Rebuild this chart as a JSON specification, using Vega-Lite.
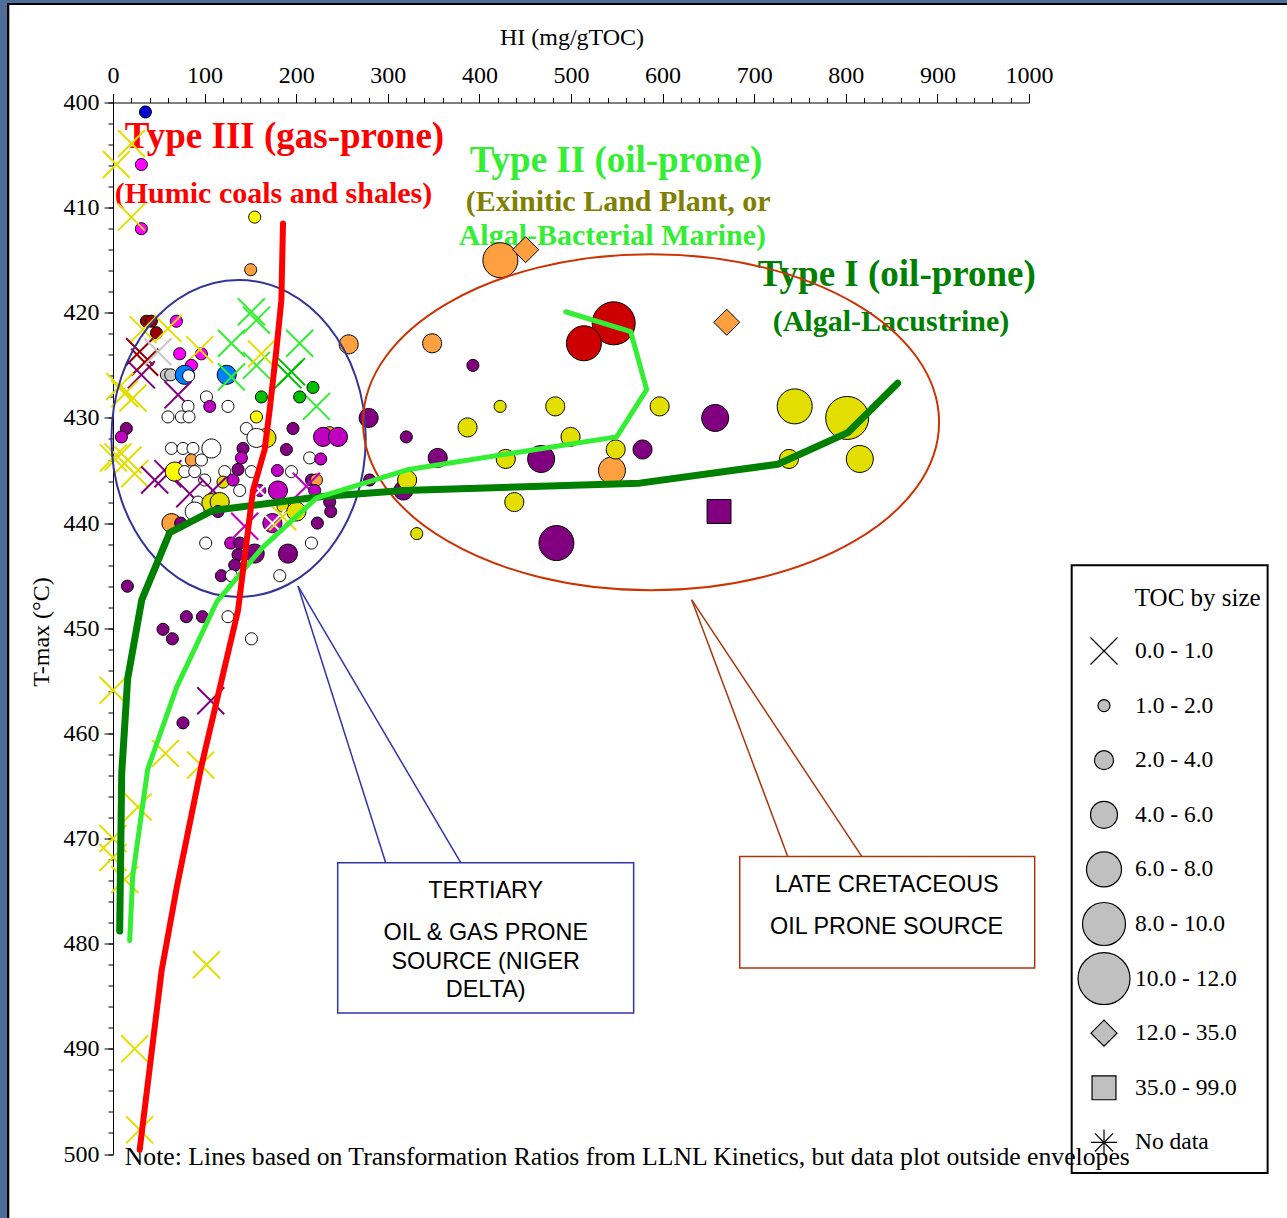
{
  "$schema": "https://vega.github.io/schema/vega-lite/v6.json",
  "width": 916,
  "height": 1051.5,
  "autosize": "none",
  "padding": {"left": 113, "top": 102.5, "right": 258, "bottom": 64},
  "background": "white",
  "config": {"view": {"stroke": null}, "font": "Liberation Serif"},
  "resolve": {"axis": {"x": "independent", "y": "independent"}},
  "datasets": {
    "samples": [
      {"HI":35.4,"Tmax":400.9,"toc":"1.0 - 2.0","group":"blue"},
      {"HI":31.0,"Tmax":405.9,"toc":"1.0 - 2.0","group":"pink"},
      {"HI":20.1,"Tmax":403.9,"toc":"0.0 - 1.0","group":"yellow"},
      {"HI":3.7,"Tmax":405.9,"toc":"0.0 - 1.0","group":"yellow"},
      {"HI":31.0,"Tmax":412.0,"toc":"1.0 - 2.0","group":"pink"},
      {"HI":20.1,"Tmax":410.9,"toc":"0.0 - 1.0","group":"yellow"},
      {"HI":154.7,"Tmax":410.9,"toc":"1.0 - 2.0","group":"lemon"},
      {"HI":150.3,"Tmax":415.9,"toc":"1.0 - 2.0","group":"orange"},
      {"HI":36.5,"Tmax":420.8,"toc":"1.0 - 2.0","group":"maroon"},
      {"HI":41.9,"Tmax":420.8,"toc":"1.0 - 2.0","group":"maroon"},
      {"HI":47.4,"Tmax":421.9,"toc":"1.0 - 2.0","group":"maroon"},
      {"HI":69.2,"Tmax":420.8,"toc":"1.0 - 2.0","group":"pink"},
      {"HI":32.8,"Tmax":421.6,"toc":"0.0 - 1.0","group":"yellow"},
      {"HI":60.0,"Tmax":421.5,"toc":"0.0 - 1.0","group":"yellow"},
      {"HI":29.1,"Tmax":423.7,"toc":"0.0 - 1.0","group":"maroon"},
      {"HI":34.6,"Tmax":424.7,"toc":"0.0 - 1.0","group":"maroon"},
      {"HI":49.1,"Tmax":423.7,"toc":"0.0 - 1.0","group":"gray"},
      {"HI":96.5,"Tmax":423.9,"toc":"1.0 - 2.0","group":"pink"},
      {"HI":94.7,"Tmax":423.5,"toc":"0.0 - 1.0","group":"yellow"},
      {"HI":72.8,"Tmax":423.9,"toc":"1.0 - 2.0","group":"pink"},
      {"HI":85.6,"Tmax":425.0,"toc":"1.0 - 2.0","group":"pink"},
      {"HI":31.0,"Tmax":425.9,"toc":"0.0 - 1.0","group":"purple"},
      {"HI":58.3,"Tmax":425.9,"toc":"1.0 - 2.0","group":"gray"},
      {"HI":63.0,"Tmax":425.9,"toc":"1.0 - 2.0","group":"gray"},
      {"HI":78.3,"Tmax":425.9,"toc":"2.0 - 4.0","group":"sky"},
      {"HI":82.6,"Tmax":426.0,"toc":"1.0 - 2.0","group":"white"},
      {"HI":124.1,"Tmax":425.9,"toc":"2.0 - 4.0","group":"sky"},
      {"HI":129.3,"Tmax":426.1,"toc":"0.0 - 1.0","group":"lime"},
      {"HI":71.0,"Tmax":427.8,"toc":"0.0 - 1.0","group":"purple"},
      {"HI":7.3,"Tmax":427.0,"toc":"0.0 - 1.0","group":"yellow"},
      {"HI":12.8,"Tmax":427.7,"toc":"0.0 - 1.0","group":"yellow"},
      {"HI":21.8,"Tmax":428.1,"toc":"0.0 - 1.0","group":"yellow"},
      {"HI":102.0,"Tmax":428.0,"toc":"1.0 - 2.0","group":"white"},
      {"HI":81.9,"Tmax":428.9,"toc":"1.0 - 2.0","group":"white"},
      {"HI":125.5,"Tmax":428.9,"toc":"1.0 - 2.0","group":"white"},
      {"HI":105.6,"Tmax":428.9,"toc":"1.0 - 2.0","group":"magenta"},
      {"HI":60.0,"Tmax":429.9,"toc":"1.0 - 2.0","group":"white"},
      {"HI":74.7,"Tmax":429.9,"toc":"1.0 - 2.0","group":"white"},
      {"HI":83.0,"Tmax":429.9,"toc":"1.0 - 2.0","group":"white"},
      {"HI":151.1,"Tmax":419.9,"toc":"0.0 - 1.0","group":"lime"},
      {"HI":156.6,"Tmax":420.7,"toc":"0.0 - 1.0","group":"lime"},
      {"HI":129.3,"Tmax":422.9,"toc":"0.0 - 1.0","group":"lime"},
      {"HI":156.6,"Tmax":425.0,"toc":"0.0 - 1.0","group":"lime"},
      {"HI":203.8,"Tmax":422.9,"toc":"0.0 - 1.0","group":"lime"},
      {"HI":194.8,"Tmax":425.6,"toc":"0.0 - 1.0","group":"green"},
      {"HI":191.0,"Tmax":425.9,"toc":"0.0 - 1.0","group":"green"},
      {"HI":222.1,"Tmax":428.9,"toc":"0.0 - 1.0","group":"lime"},
      {"HI":162.0,"Tmax":423.9,"toc":"0.0 - 1.0","group":"yellow"},
      {"HI":162.0,"Tmax":428.0,"toc":"1.0 - 2.0","group":"green"},
      {"HI":203.8,"Tmax":428.0,"toc":"1.0 - 2.0","group":"green"},
      {"HI":218.3,"Tmax":427.1,"toc":"1.0 - 2.0","group":"green"},
      {"HI":156.6,"Tmax":429.9,"toc":"1.0 - 2.0","group":"lemon"},
      {"HI":196.5,"Tmax":431.0,"toc":"1.0 - 2.0","group":"purple"},
      {"HI":145.6,"Tmax":431.0,"toc":"1.0 - 2.0","group":"white"},
      {"HI":167.5,"Tmax":431.9,"toc":"2.0 - 4.0","group":"yellow"},
      {"HI":156.6,"Tmax":431.9,"toc":"2.0 - 4.0","group":"white"},
      {"HI":236.6,"Tmax":431.4,"toc":"1.0 - 2.0","group":"orange"},
      {"HI":229.3,"Tmax":431.8,"toc":"2.0 - 4.0","group":"magenta"},
      {"HI":245.6,"Tmax":431.8,"toc":"2.0 - 4.0","group":"magenta"},
      {"HI":14.6,"Tmax":431.0,"toc":"1.0 - 2.0","group":"purple"},
      {"HI":9.2,"Tmax":431.8,"toc":"1.0 - 2.0","group":"magenta"},
      {"HI":257.3,"Tmax":423.0,"toc":"2.0 - 4.0","group":"orange"},
      {"HI":279.1,"Tmax":430.0,"toc":"2.0 - 4.0","group":"purple"},
      {"HI":5.5,"Tmax":433.7,"toc":"0.0 - 1.0","group":"yellow"},
      {"HI":16.4,"Tmax":434.0,"toc":"0.0 - 1.0","group":"yellow"},
      {"HI":23.7,"Tmax":435.3,"toc":"0.0 - 1.0","group":"yellow"},
      {"HI":0.5,"Tmax":433.8,"toc":"0.0 - 1.0","group":"yellow"},
      {"HI":45.5,"Tmax":435.9,"toc":"0.0 - 1.0","group":"purple"},
      {"HI":60.0,"Tmax":435.3,"toc":"0.0 - 1.0","group":"purple"},
      {"HI":63.8,"Tmax":432.9,"toc":"1.0 - 2.0","group":"white"},
      {"HI":76.4,"Tmax":432.9,"toc":"1.0 - 2.0","group":"white"},
      {"HI":87.3,"Tmax":432.9,"toc":"1.0 - 2.0","group":"white"},
      {"HI":107.4,"Tmax":432.9,"toc":"2.0 - 4.0","group":"white"},
      {"HI":85.6,"Tmax":434.0,"toc":"1.0 - 2.0","group":"orange"},
      {"HI":96.5,"Tmax":434.0,"toc":"1.0 - 2.0","group":"white"},
      {"HI":67.4,"Tmax":435.1,"toc":"2.0 - 4.0","group":"lemon"},
      {"HI":78.3,"Tmax":435.1,"toc":"1.0 - 2.0","group":"white"},
      {"HI":89.2,"Tmax":435.1,"toc":"1.0 - 2.0","group":"white"},
      {"HI":100.1,"Tmax":435.9,"toc":"1.0 - 2.0","group":"white"},
      {"HI":121.9,"Tmax":435.1,"toc":"1.0 - 2.0","group":"white"},
      {"HI":120.1,"Tmax":436.1,"toc":"1.0 - 2.0","group":"yellow"},
      {"HI":131.0,"Tmax":435.9,"toc":"1.0 - 2.0","group":"magenta"},
      {"HI":138.3,"Tmax":436.9,"toc":"1.0 - 2.0","group":"white"},
      {"HI":141.9,"Tmax":432.9,"toc":"1.0 - 2.0","group":"purple"},
      {"HI":140.2,"Tmax":433.8,"toc":"1.0 - 2.0","group":"magenta"},
      {"HI":136.5,"Tmax":434.9,"toc":"1.0 - 2.0","group":"purple"},
      {"HI":151.1,"Tmax":435.1,"toc":"1.0 - 2.0","group":"white"},
      {"HI":109.1,"Tmax":436.9,"toc":"0.0 - 1.0","group":"purple"},
      {"HI":83.8,"Tmax":437.2,"toc":"0.0 - 1.0","group":"purple"},
      {"HI":92.8,"Tmax":438.0,"toc":"1.0 - 2.0","group":"white"},
      {"HI":107.4,"Tmax":438.1,"toc":"2.0 - 4.0","group":"yellow"},
      {"HI":116.5,"Tmax":438.0,"toc":"2.0 - 4.0","group":"yellow"},
      {"HI":89.2,"Tmax":438.9,"toc":"2.0 - 4.0","group":"white"},
      {"HI":114.6,"Tmax":438.9,"toc":"1.0 - 2.0","group":"purple"},
      {"HI":63.8,"Tmax":440.0,"toc":"2.0 - 4.0","group":"orange"},
      {"HI":73.9,"Tmax":440.0,"toc":"1.0 - 2.0","group":"purple"},
      {"HI":101.2,"Tmax":441.9,"toc":"1.0 - 2.0","group":"white"},
      {"HI":128.5,"Tmax":441.9,"toc":"1.0 - 2.0","group":"magenta"},
      {"HI":138.3,"Tmax":441.9,"toc":"1.0 - 2.0","group":"purple"},
      {"HI":136.5,"Tmax":443.0,"toc":"1.0 - 2.0","group":"purple"},
      {"HI":132.9,"Tmax":444.0,"toc":"1.0 - 2.0","group":"purple"},
      {"HI":118.3,"Tmax":445.0,"toc":"1.0 - 2.0","group":"purple"},
      {"HI":129.3,"Tmax":445.0,"toc":"1.0 - 2.0","group":"white"},
      {"HI":15.7,"Tmax":446.0,"toc":"1.0 - 2.0","group":"purple"},
      {"HI":143.8,"Tmax":440.3,"toc":"0.0 - 1.0","group":"magenta"},
      {"HI":189.3,"Tmax":433.0,"toc":"1.0 - 2.0","group":"purple"},
      {"HI":214.7,"Tmax":433.8,"toc":"1.0 - 2.0","group":"white"},
      {"HI":226.8,"Tmax":433.9,"toc":"1.0 - 2.0","group":"magenta"},
      {"HI":194.8,"Tmax":435.1,"toc":"1.0 - 2.0","group":"white"},
      {"HI":179.5,"Tmax":435.0,"toc":"1.0 - 2.0","group":"magenta"},
      {"HI":216.6,"Tmax":435.9,"toc":"1.0 - 2.0","group":"purple"},
      {"HI":222.1,"Tmax":435.9,"toc":"1.0 - 2.0","group":"orange"},
      {"HI":211.1,"Tmax":436.5,"toc":"0.0 - 1.0","group":"magenta"},
      {"HI":220.2,"Tmax":436.9,"toc":"1.0 - 2.0","group":"magenta"},
      {"HI":236.6,"Tmax":438.0,"toc":"1.0 - 2.0","group":"purple"},
      {"HI":237.7,"Tmax":438.9,"toc":"1.0 - 2.0","group":"purple"},
      {"HI":223.1,"Tmax":440.0,"toc":"1.0 - 2.0","group":"purple"},
      {"HI":180.1,"Tmax":436.9,"toc":"2.0 - 4.0","group":"magenta"},
      {"HI":160.2,"Tmax":436.9,"toc":"1.0 - 2.0","group":"magenta"},
      {"HI":160.2,"Tmax":436.9,"toc":"0.0 - 1.0","group":"white"},
      {"HI":185.6,"Tmax":438.4,"toc":"1.0 - 2.0","group":"yellow"},
      {"HI":200.2,"Tmax":438.9,"toc":"2.0 - 4.0","group":"yellow"},
      {"HI":174.0,"Tmax":440.0,"toc":"2.0 - 4.0","group":"magenta"},
      {"HI":174.0,"Tmax":440.0,"toc":"0.0 - 1.0","group":"white"},
      {"HI":191.0,"Tmax":442.9,"toc":"2.0 - 4.0","group":"purple"},
      {"HI":154.7,"Tmax":442.9,"toc":"2.0 - 4.0","group":"purple"},
      {"HI":216.6,"Tmax":441.9,"toc":"1.0 - 2.0","group":"white"},
      {"HI":182.0,"Tmax":445.0,"toc":"1.0 - 2.0","group":"white"},
      {"HI":185.3,"Tmax":439.4,"toc":"0.0 - 1.0","group":"yellow"},
      {"HI":0.0,"Tmax":455.9,"toc":"0.0 - 1.0","group":"yellow"},
      {"HI":57.2,"Tmax":461.9,"toc":"0.0 - 1.0","group":"yellow"},
      {"HI":95.7,"Tmax":463.0,"toc":"0.0 - 1.0","group":"yellow"},
      {"HI":106.7,"Tmax":456.9,"toc":"0.0 - 1.0","group":"purple"},
      {"HI":27.3,"Tmax":467.0,"toc":"0.0 - 1.0","group":"yellow"},
      {"HI":0.0,"Tmax":470.0,"toc":"0.0 - 1.0","group":"yellow"},
      {"HI":0.0,"Tmax":471.8,"toc":"0.0 - 1.0","group":"yellow"},
      {"HI":12.8,"Tmax":473.9,"toc":"0.0 - 1.0","group":"yellow"},
      {"HI":102.0,"Tmax":482.0,"toc":"0.0 - 1.0","group":"yellow"},
      {"HI":23.7,"Tmax":490.0,"toc":"0.0 - 1.0","group":"yellow"},
      {"HI":29.1,"Tmax":497.7,"toc":"0.0 - 1.0","group":"yellow"},
      {"HI":80.1,"Tmax":448.9,"toc":"1.0 - 2.0","group":"purple"},
      {"HI":54.6,"Tmax":450.1,"toc":"1.0 - 2.0","group":"purple"},
      {"HI":64.8,"Tmax":451.0,"toc":"1.0 - 2.0","group":"purple"},
      {"HI":97.6,"Tmax":448.9,"toc":"1.0 - 2.0","group":"purple"},
      {"HI":125.5,"Tmax":448.9,"toc":"1.0 - 2.0","group":"white"},
      {"HI":151.1,"Tmax":451.0,"toc":"1.0 - 2.0","group":"white"},
      {"HI":76.4,"Tmax":459.0,"toc":"1.0 - 2.0","group":"purple"},
      {"HI":348.4,"Tmax":422.9,"toc":"2.0 - 4.0","group":"orange"},
      {"HI":392.9,"Tmax":425.0,"toc":"1.0 - 2.0","group":"purple"},
      {"HI":422.6,"Tmax":428.9,"toc":"1.0 - 2.0","group":"yellow"},
      {"HI":482.8,"Tmax":428.9,"toc":"2.0 - 4.0","group":"yellow"},
      {"HI":596.8,"Tmax":428.9,"toc":"2.0 - 4.0","group":"yellow"},
      {"HI":657.4,"Tmax":430.0,"toc":"4.0 - 6.0","group":"purple"},
      {"HI":744.2,"Tmax":428.9,"toc":"6.0 - 8.0","group":"yellow"},
      {"HI":801.5,"Tmax":430.0,"toc":"8.0 - 10.0","group":"yellow"},
      {"HI":815.3,"Tmax":433.9,"toc":"4.0 - 6.0","group":"yellow"},
      {"HI":738.0,"Tmax":433.9,"toc":"2.0 - 4.0","group":"yellow"},
      {"HI":320.2,"Tmax":431.8,"toc":"1.0 - 2.0","group":"purple"},
      {"HI":387.1,"Tmax":430.9,"toc":"2.0 - 4.0","group":"yellow"},
      {"HI":354.5,"Tmax":433.8,"toc":"2.0 - 4.0","group":"purple"},
      {"HI":428.8,"Tmax":433.9,"toc":"2.0 - 4.0","group":"yellow"},
      {"HI":467.4,"Tmax":433.9,"toc":"4.0 - 6.0","group":"purple"},
      {"HI":499.5,"Tmax":431.8,"toc":"2.0 - 4.0","group":"yellow"},
      {"HI":544.7,"Tmax":435.0,"toc":"4.0 - 6.0","group":"orange"},
      {"HI":548.8,"Tmax":433.0,"toc":"2.0 - 4.0","group":"yellow"},
      {"HI":578.1,"Tmax":433.0,"toc":"2.0 - 4.0","group":"purple"},
      {"HI":280.2,"Tmax":435.9,"toc":"1.0 - 2.0","group":"purple"},
      {"HI":317.0,"Tmax":436.9,"toc":"2.0 - 4.0","group":"purple"},
      {"HI":321.1,"Tmax":435.9,"toc":"2.0 - 4.0","group":"yellow"},
      {"HI":438.1,"Tmax":438.0,"toc":"2.0 - 4.0","group":"yellow"},
      {"HI":331.6,"Tmax":441.0,"toc":"1.0 - 2.0","group":"yellow"},
      {"HI":484.1,"Tmax":441.9,"toc":"6.0 - 8.0","group":"purple"},
      {"HI":661.6,"Tmax":438.9,"toc":"35.0 - 99.0","group":"purple"},
      {"HI":670.0,"Tmax":420.9,"toc":"12.0 - 35.0","group":"orange"},
      {"HI":546.6,"Tmax":421.0,"toc":"8.0 - 10.0","group":"red"},
      {"HI":514.1,"Tmax":422.9,"toc":"6.0 - 8.0","group":"red"},
      {"HI":422.9,"Tmax":415.0,"toc":"6.0 - 8.0","group":"orange"},
      {"HI":450.5,"Tmax":414.0,"toc":"12.0 - 35.0","group":"orange"}
    ],
    "curves": [
      {"type":"Type I","i":1,"HI":856.6,"Tmax":426.7},
      {"type":"Type I","i":2,"HI":802.1,"Tmax":431.4},
      {"type":"Type I","i":3,"HI":725.7,"Tmax":434.4},
      {"type":"Type I","i":4,"HI":575.0,"Tmax":436.2},
      {"type":"Type I","i":5,"HI":317.3,"Tmax":436.9},
      {"type":"Type I","i":6,"HI":225.6,"Tmax":437.5},
      {"type":"Type I","i":7,"HI":108.9,"Tmax":438.8},
      {"type":"Type I","i":8,"HI":61.9,"Tmax":440.9},
      {"type":"Type I","i":9,"HI":31.4,"Tmax":447.3},
      {"type":"Type I","i":10,"HI":16.0,"Tmax":454.8},
      {"type":"Type I","i":11,"HI":9.5,"Tmax":463.8},
      {"type":"Type I","i":12,"HI":7.3,"Tmax":478.8},
      {"type":"Type II","i":1,"HI":494.2,"Tmax":419.9},
      {"type":"Type II","i":2,"HI":565.2,"Tmax":421.8},
      {"type":"Type II","i":3,"HI":582.6,"Tmax":427.3},
      {"type":"Type II","i":4,"HI":549.8,"Tmax":431.8},
      {"type":"Type II","i":5,"HI":322.8,"Tmax":434.9},
      {"type":"Type II","i":6,"HI":222.4,"Tmax":437.6},
      {"type":"Type II","i":7,"HI":163.4,"Tmax":442.3},
      {"type":"Type II","i":8,"HI":113.2,"Tmax":447.5},
      {"type":"Type II","i":9,"HI":69.5,"Tmax":455.6},
      {"type":"Type II","i":10,"HI":37.9,"Tmax":463.4},
      {"type":"Type II","i":11,"HI":21.5,"Tmax":473.6},
      {"type":"Type II","i":12,"HI":18.2,"Tmax":479.7},
      {"type":"Type III","i":1,"HI":185.6,"Tmax":411.5},
      {"type":"Type III","i":2,"HI":183.8,"Tmax":418.8},
      {"type":"Type III","i":3,"HI":178.4,"Tmax":423.5},
      {"type":"Type III","i":4,"HI":171.1,"Tmax":429.2},
      {"type":"Type III","i":5,"HI":165.6,"Tmax":433.0},
      {"type":"Type III","i":6,"HI":152.8,"Tmax":436.9},
      {"type":"Type III","i":7,"HI":136.5,"Tmax":448.3},
      {"type":"Type III","i":8,"HI":96.8,"Tmax":463.0},
      {"type":"Type III","i":9,"HI":69.5,"Tmax":474.7},
      {"type":"Type III","i":10,"HI":53.2,"Tmax":482.5},
      {"type":"Type III","i":11,"HI":29.1,"Tmax":499.6}
    ]
  },
  "layer": [
    {
      "data": {"values": [
        {"HI":-124,"HI2":-115.7,"Tmax":390,"Tmax2":507},
        {"HI":-124,"HI2":1282,"Tmax":390,"Tmax2":390.54}
      ]},
      "mark": {"type": "rect", "fill": "#4e6e98", "clip": false},
      "encoding": {
        "x": {
          "field": "HI", "type": "quantitative",
          "scale": {"domain": [0, 1000], "nice": false, "zero": false},
          "axis": {
            "orient": "top",
            "values": [0,100,200,300,400,500,600,700,800,900,1000],
            "format": "d",
            "tickSize": 9, "tickColor": "#000000", "tickWidth": 1,
            "domain": true, "domainColor": "#000000", "domainWidth": 1,
            "grid": false,
            "labelFont": "Liberation Serif", "labelFontSize": 24, "labelColor": "#000000",
            "labelPadding": 6, "labelOverlap": false, "labelFlush": false,
            "title": "HI (mg/gTOC)",
            "titleFont": "Liberation Serif", "titleFontSize": 24, "titleFontWeight": "normal", "titleColor": "#000000",
            "titleAlign": "center", "titleBaseline": "alphabetic", "titleX": 458.5, "titleY": -58
          }
        },
        "x2": {"field": "HI2"},
        "y": {
          "field": "Tmax", "type": "quantitative",
          "scale": {"domain": [400, 500], "nice": false, "zero": false, "reverse": true},
          "axis": {
            "orient": "left",
            "values": [400,410,420,430,440,450,460,470,480,490,500],
            "format": "d",
            "tickSize": 9, "tickColor": "#000000", "tickWidth": 1,
            "domain": true, "domainColor": "#000000", "domainWidth": 1,
            "grid": false,
            "labelFont": "Liberation Serif", "labelFontSize": 24, "labelColor": "#000000",
            "labelPadding": 5, "labelOverlap": false, "labelFlush": false,
            "title": "T-max (°C)",
            "titleFont": "Liberation Serif", "titleFontSize": 24, "titleFontWeight": "normal", "titleColor": "#000000",
            "titleAngle": -90, "titleAlign": "center", "titleBaseline": "middle", "titleX": -72, "titleY": 529
          }
        },
        "y2": {"field": "Tmax2"}
      }
    },
    {
      "data": {"values": [
        {"HI":-115.7,"HI2":-113.2,"Tmax":390.54,"Tmax2":507},
        {"HI":-115.7,"HI2":1282,"Tmax":390.54,"Tmax2":390.73}
      ]},
      "mark": {"type": "rect", "fill": "#000000", "clip": false},
      "encoding": {
        "x": {
          "field": "HI", "type": "quantitative",
          "axis": {
            "orient": "top",
            "values": [0,20,40,60,80,100,120,140,160,180,200,220,240,260,280,300,320,340,360,380,400,420,440,460,480,500,520,540,560,580,600,620,640,660,680,700,720,740,760,780,800,820,840,860,880,900,920,940,960,980,1000],
            "tickSize": 5, "tickColor": "#000000", "tickWidth": 1,
            "labels": false, "domain": false, "grid": false, "title": null
          }
        },
        "x2": {"field": "HI2"},
        "y": {
          "field": "Tmax", "type": "quantitative",
          "axis": {
            "orient": "left",
            "values": [400,402,404,406,408,410,412,414,416,418,420,422,424,426,428,430,432,434,436,438,440,442,444,446,448,450,452,454,456,458,460,462,464,466,468,470,472,474,476,478,480,482,484,486,488,490,492,494,496,498,500],
            "tickSize": 5, "tickColor": "#000000", "tickWidth": 1,
            "labels": false, "domain": false, "grid": false, "title": null
          }
        },
        "y2": {"field": "Tmax2"}
      }
    },
    {
      "data": {"values": [
        {"label":"Type III (gas-prone)","kind":"Type III","HI":12.9,"Tmax":404.33},
        {"label":"Type II (oil-prone)","kind":"Type II","HI":389.4,"Tmax":406.61},
        {"label":"Type I (oil-prone)","kind":"Type I","HI":703.8,"Tmax":417.45}
      ]},
      "mark": {"type": "text", "font": "Liberation Serif", "fontWeight": "bold", "fontSize": 37, "align": "left", "baseline": "alphabetic", "clip": false},
      "encoding": {
        "x": {"field": "HI", "type": "quantitative", "axis": null},
        "y": {"field": "Tmax", "type": "quantitative", "axis": null},
        "text": {"field": "label"},
        "color": {"field": "kind", "type": "nominal", "scale": {"domain": ["Type III","Type II","Type II source","Type I"], "range": ["#ff0000","#33ee33","#808000","#008000"]}, "legend": null}
      }
    },
    {
      "data": {"values": [
        {"label":"(Humic coals and shales)","kind":"Type III","HI":1.9,"Tmax":409.56},
        {"label":"(Exinitic Land Plant, or","kind":"Type II source","HI":385.0,"Tmax":410.32},
        {"label":"Algal-Bacterial Marine)","kind":"Type II","HI":377.4,"Tmax":413.55},
        {"label":"(Algal-Lacustrine)","kind":"Type I","HI":720.2,"Tmax":421.73}
      ]},
      "mark": {"type": "text", "font": "Liberation Serif", "fontWeight": "bold", "fontSize": 30, "align": "left", "baseline": "alphabetic", "clip": false},
      "encoding": {
        "x": {"field": "HI", "type": "quantitative", "axis": null},
        "y": {"field": "Tmax", "type": "quantitative", "axis": null},
        "text": {"field": "label"},
        "color": {"field": "kind", "type": "nominal", "scale": {"domain": ["Type III","Type II","Type II source","Type I"], "range": ["#ff0000","#33ee33","#808000","#008000"]}, "legend": null}
      }
    },
    {
      "data": {"values": [
        {"label":"Note: Lines based on Transformation Ratios from LLNL Kinetics, but data plot outside envelopes","HI":12.9,"Tmax":501.04}
      ]},
      "mark": {"type": "text", "font": "Liberation Serif", "fontSize": 25.7, "align": "left", "baseline": "alphabetic", "color": "#000000", "clip": false},
      "encoding": {
        "x": {"field": "HI", "type": "quantitative", "axis": null},
        "y": {"field": "Tmax", "type": "quantitative", "axis": null},
        "text": {"field": "label"}
      }
    },
    {
      "data": {"values": [
        {"label":"TERTIARY","HI":406.9,"Tmax":475.65},
        {"label":"OIL & GAS PRONE","HI":406.9,"Tmax":479.64},
        {"label":"SOURCE (NIGER","HI":406.9,"Tmax":482.40},
        {"label":"DELTA)","HI":406.9,"Tmax":485.06},
        {"label":"LATE CRETACEOUS","HI":844.6,"Tmax":475.08},
        {"label":"OIL PRONE SOURCE","HI":844.6,"Tmax":479.07}
      ]},
      "mark": {"type": "text", "font": "Liberation Sans", "fontSize": 23.4, "align": "center", "baseline": "alphabetic", "color": "#000000", "clip": false},
      "encoding": {
        "x": {"field": "HI", "type": "quantitative", "axis": null},
        "y": {"field": "Tmax", "type": "quantitative", "axis": null},
        "text": {"field": "label"}
      }
    },
    {
      "data": {"values": [{"label":"TOC by size","HI":1115.5,"Tmax":447.88}]},
      "mark": {"type": "text", "font": "Liberation Serif", "fontSize": 25, "align": "left", "baseline": "alphabetic", "color": "#000000", "clip": false},
      "encoding": {
        "x": {"field": "HI", "type": "quantitative", "axis": null},
        "y": {"field": "Tmax", "type": "quantitative", "axis": null},
        "text": {"field": "label"}
      }
    },
    {
      "data": {"values": [{"HI":1046.6,"HI2":1260.5,"Tmax":444.0,"Tmax2":501.8}]},
      "mark": {"type": "rect", "fill": "transparent", "stroke": "#000000", "strokeWidth": 2, "clip": false},
      "encoding": {
        "x": {"field": "HI", "type": "quantitative", "axis": null},
        "x2": {"field": "HI2"},
        "y": {"field": "Tmax", "type": "quantitative", "axis": null},
        "y2": {"field": "Tmax2"}
      }
    },
    {
      "data": {"values": [{"HI":245.3,"HI2":568.4,"Tmax":472.3,"Tmax2":486.6}]},
      "mark": {"type": "rect", "fill": "transparent", "stroke": "#3333aa", "strokeWidth": 1.5, "clip": false},
      "encoding": {
        "x": {"field": "HI", "type": "quantitative", "axis": null},
        "x2": {"field": "HI2"},
        "y": {"field": "Tmax", "type": "quantitative", "axis": null},
        "y2": {"field": "Tmax2"}
      }
    },
    {
      "data": {"values": [{"HI":684.2,"HI2":1006.2,"Tmax":471.7,"Tmax2":482.3}]},
      "mark": {"type": "rect", "fill": "transparent", "stroke": "#a8360c", "strokeWidth": 1.5, "clip": false},
      "encoding": {
        "x": {"field": "HI", "type": "quantitative", "axis": null},
        "x2": {"field": "HI2"},
        "y": {"field": "Tmax", "type": "quantitative", "axis": null},
        "y2": {"field": "Tmax2"}
      }
    },
    {
      "data": {"values": [
        {"HI":202.0,"Tmax":446.0,"HI2":297.7,"Tmax2":472.3},
        {"HI":202.0,"Tmax":446.0,"HI2":379.6,"Tmax2":472.3}
      ]},
      "mark": {"type": "rule", "stroke": "#3333aa", "strokeWidth": 1.5, "clip": false},
      "encoding": {
        "x": {"field": "HI", "type": "quantitative", "axis": null},
        "x2": {"field": "HI2"},
        "y": {"field": "Tmax", "type": "quantitative", "axis": null},
        "y2": {"field": "Tmax2"}
      }
    },
    {
      "data": {"values": [
        {"HI":631.8,"Tmax":447.3,"HI2":736.6,"Tmax2":471.7},
        {"HI":631.8,"Tmax":447.3,"HI2":817.4,"Tmax2":471.7}
      ]},
      "mark": {"type": "rule", "stroke": "#a8360c", "strokeWidth": 1.5, "clip": false},
      "encoding": {
        "x": {"field": "HI", "type": "quantitative", "axis": null},
        "x2": {"field": "HI2"},
        "y": {"field": "Tmax", "type": "quantitative", "axis": null},
        "y2": {"field": "Tmax2"}
      }
    },
    {
      "data": {"name": "samples"},
      "mark": {"type": "point", "filled": true, "opacity": 1, "size": 2704, "clip": false},
      "encoding": {
        "x": {"field": "HI", "type": "quantitative", "axis": null},
        "y": {"field": "Tmax", "type": "quantitative", "axis": null},
        "shape": {
          "field": "toc", "type": "nominal",
          "scale": {
            "domain": ["0.0 - 1.0","1.0 - 2.0","2.0 - 4.0","4.0 - 6.0","6.0 - 8.0","8.0 - 10.0","10.0 - 12.0","12.0 - 35.0","35.0 - 99.0","No data"],
            "range": [
              "M-0.52,-0.52L0.52,0.52M-0.52,0.52L0.52,-0.52",
              "M0.2308,0C0.2308,0.1275 0.1275,0.2308 0,0.2308C-0.1275,0.2308 -0.2308,0.1275 -0.2308,0C-0.2308,-0.1275 -0.1275,-0.2308 0,-0.2308C0.1275,-0.2308 0.2308,-0.1275 0.2308,0Z",
              "M0.3654,0C0.3654,0.2018 0.2018,0.3654 0,0.3654C-0.2018,0.3654 -0.3654,0.2018 -0.3654,0C-0.3654,-0.2018 -0.2018,-0.3654 0,-0.3654C0.2018,-0.3654 0.3654,-0.2018 0.3654,0Z",
              "M0.519,0C0.519,0.2866 0.2866,0.519 0,0.519C-0.2866,0.519 -0.519,0.2866 -0.519,0C-0.519,-0.2866 -0.2866,-0.519 0,-0.519C0.2866,-0.519 0.519,-0.2866 0.519,0Z",
              "M0.673,0C0.673,0.3717 0.3717,0.673 0,0.673C-0.3717,0.673 -0.673,0.3717 -0.673,0C-0.673,-0.3717 -0.3717,-0.673 0,-0.673C0.3717,-0.673 0.673,-0.3717 0.673,0Z",
              "M0.827,0C0.827,0.4568 0.4568,0.827 0,0.827C-0.4568,0.827 -0.827,0.4568 -0.827,0C-0.827,-0.4568 -0.4568,-0.827 0,-0.827C0.4568,-0.827 0.827,-0.4568 0.827,0Z",
              "M1,0C1,0.5523 0.5523,1 0,1C-0.5523,1 -1,0.5523 -1,0C-1,-0.5523 -0.5523,-1 0,-1C0.5523,-1 1,-0.5523 1,0Z",
              "M-0.5,0L0,-0.5L0.5,0L0,0.5Z",
              "M-0.46,-0.46L0.46,-0.46L0.46,0.46L-0.46,0.46Z",
              "M-0.5,0L0.5,0M0,-0.5L0,0.5M-0.35,-0.35L0.35,0.35M-0.35,0.35L0.35,-0.35"
            ]
          },
          "legend": {
            "orient": "none", "legendX": 964, "legendY": 522,
            "direction": "vertical", "columns": 1, "title": null, "padding": 0,
            "clipHeight": 53, "rowPadding": 1.6,
            "symbolSize": 2704, "symbolStrokeWidth": 1.2, "symbolOffset": 0,
            "labelOffset": 4, "labelFont": "Liberation Serif", "labelFontSize": 23.5, "labelColor": "#000000", "labelLimit": 300
          }
        },
        "fill": {
          "condition": {"test": "datum.toc === '0.0 - 1.0'", "value": "#c0c0c0"},
          "field": "group", "type": "nominal",
          "scale": {
            "domain": ["yellow","lemon","purple","magenta","pink","orange","red","maroon","white","green","lime","blue","sky","gray"],
            "range": ["#e2df00","#ffff00","#800080","#c000c0","#ff00ff","#ffa040","#cc0000","#990000","#ffffff","#00c000","#33ee33","#0000cc","#0080ff","#c8c8c8"]
          },
          "legend": null
        },
        "stroke": {
          "condition": {"test": "datum.toc !== '0.0 - 1.0'", "value": "#000000"},
          "field": "group", "type": "nominal",
          "scale": {
            "domain": ["yellow","lemon","purple","magenta","pink","orange","red","maroon","white","green","lime","blue","sky","gray"],
            "range": ["#e2df00","#ffff00","#800080","#c000c0","#ff00ff","#ffa040","#cc0000","#990000","#ffffff","#00c000","#33ee33","#0000cc","#0080ff","#c8c8c8"]
          },
          "legend": null
        },
        "strokeWidth": {"condition": {"test": "datum.toc === '0.0 - 1.0'", "value": 2}, "value": 1}
      }
    },
    {
      "data": {"values": [{"HI": 137.1, "Tmax": 431.95}]},
      "mark": {"type": "point", "filled": false, "opacity": 1, "fill": "transparent", "stroke": "#333399", "strokeWidth": 2, "size": 64668, "clip": false,
        "shape": "M1,0C1,0.6885 0.5523,1.2466 0,1.2466C-0.5523,1.2466 -1,0.6885 -1,0C-1,-0.6885 -0.5523,-1.2466 0,-1.2466C0.5523,-1.2466 1,-0.6885 1,0Z"},
      "encoding": {
        "x": {"field": "HI", "type": "quantitative", "axis": null},
        "y": {"field": "Tmax", "type": "quantitative", "axis": null}
      }
    },
    {
      "data": {"values": [{"HI": 587.4, "Tmax": 430.4}]},
      "mark": {"type": "point", "filled": false, "opacity": 1, "fill": "transparent", "stroke": "#cc3300", "strokeWidth": 2, "size": 331776, "clip": false,
        "shape": "M1,0C1,0.3222 0.5523,0.5833 0,0.5833C-0.5523,0.5833 -1,0.3222 -1,0C-1,-0.3222 -0.5523,-0.5833 0,-0.5833C0.5523,-0.5833 1,-0.3222 1,0Z"},
      "encoding": {
        "x": {"field": "HI", "type": "quantitative", "axis": null},
        "y": {"field": "Tmax", "type": "quantitative", "axis": null}
      }
    },
    {
      "data": {"name": "curves"},
      "transform": [{"filter": "datum.type === 'Type I'"}],
      "mark": {"type": "line", "stroke": "#008000", "strokeWidth": 7, "strokeCap": "round", "strokeJoin": "round", "clip": false},
      "encoding": {
        "x": {"field": "HI", "type": "quantitative", "axis": null},
        "y": {"field": "Tmax", "type": "quantitative", "axis": null},
        "order": {"field": "i", "type": "quantitative"}
      }
    },
    {
      "data": {"name": "curves"},
      "transform": [{"filter": "datum.type === 'Type II'"}],
      "mark": {"type": "line", "stroke": "#33ee33", "strokeWidth": 5, "strokeCap": "round", "strokeJoin": "round", "clip": false},
      "encoding": {
        "x": {"field": "HI", "type": "quantitative", "axis": null},
        "y": {"field": "Tmax", "type": "quantitative", "axis": null},
        "order": {"field": "i", "type": "quantitative"}
      }
    },
    {
      "data": {"name": "curves"},
      "transform": [{"filter": "datum.type === 'Type III'"}],
      "mark": {"type": "line", "stroke": "#ff0000", "strokeWidth": 6, "strokeCap": "round", "strokeJoin": "round", "clip": false},
      "encoding": {
        "x": {"field": "HI", "type": "quantitative", "axis": null},
        "y": {"field": "Tmax", "type": "quantitative", "axis": null},
        "order": {"field": "i", "type": "quantitative"}
      }
    }
  ]
}
